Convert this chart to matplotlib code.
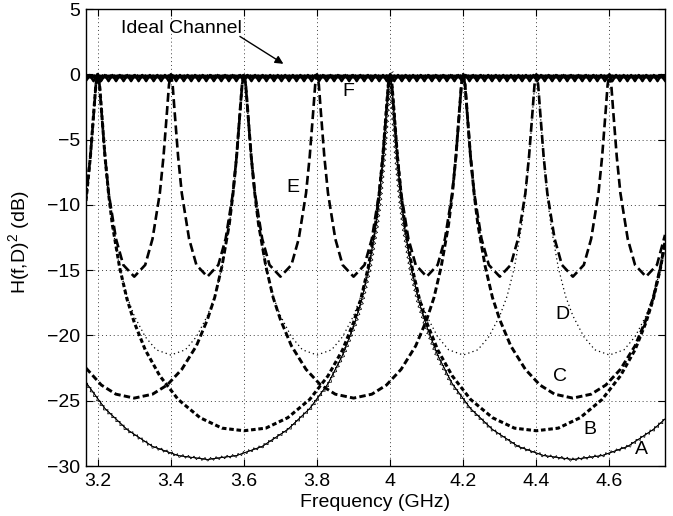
import matplotlib
matplotlib.use("Agg")
import matplotlib.pyplot as plt
from matplotlib import patheffects as pe

plt.rcParams["font.family"] = ["Liberation Sans", "DejaVu Sans"]
plt.rcParams["mathtext.fontset"] = "custom"
plt.rcParams["mathtext.rm"] = "Liberation Sans"
plt.rcParams["font.size"] = 14

# ---------------------------------------------------------------------------
# values (frequency in GHz, |H|^2 in dB)
# ---------------------------------------------------------------------------

# A: thin solid, one resonance at 4.0
a_freq = [3.168, 3.22, 3.28, 3.35, 3.42, 3.5, 3.58, 3.65, 3.72, 3.78, 3.83, 3.87,
          3.9, 3.92, 3.94, 3.96, 3.97, 3.98, 3.99, 3.995, 4.0, 4.005, 4.01, 4.02,
          4.03, 4.04, 4.06, 4.08, 4.1, 4.13, 4.17, 4.22, 4.28, 4.35, 4.42, 4.5,
          4.58, 4.65, 4.72, 4.752]
a_db = [-23.6, -25.6, -27.2, -28.5, -29.2, -29.5, -29.2, -28.5, -27.2, -25.6, -23.7, -21.5,
        -19.3, -17.5, -15.1, -11.8, -9.5, -6.5, -2.7, -0.9, 0.0, -0.9, -2.7, -6.5,
        -9.5, -11.8, -15.1, -17.5, -19.3, -21.5, -23.7, -25.6, -27.2, -28.5, -29.2, -29.5,
        -29.2, -28.5, -27.2, -26.4]

# B: thick dashed, resonances at 3.2 and 4.0
b_freq = [3.168, 3.18, 3.19, 3.195, 3.2, 3.205, 3.21, 3.22, 3.23, 3.24, 3.26, 3.28,
          3.3, 3.33, 3.37, 3.42, 3.48, 3.54, 3.6, 3.66, 3.72, 3.78, 3.83, 3.87,
          3.9, 3.92, 3.94, 3.96, 3.97, 3.98, 3.99, 3.995, 4.0, 4.005, 4.01, 4.02,
          4.03, 4.04, 4.06, 4.08, 4.1, 4.13, 4.17, 4.22, 4.28, 4.34, 4.4, 4.46,
          4.52, 4.58, 4.63, 4.67, 4.7, 4.72, 4.74, 4.752]
b_db = [-9.7, -6.3, -2.6, -0.8, 0.0, -0.8, -2.6, -6.3, -9.2, -11.5, -14.8, -17.2,
        -19.0, -21.1, -23.1, -24.9, -26.3, -27.1, -27.3, -27.1, -26.3, -24.9, -23.1, -21.1,
        -19.0, -17.2, -14.8, -11.5, -9.2, -6.3, -2.6, -0.8, 0.0, -0.8, -2.6, -6.3,
        -9.2, -11.5, -14.8, -17.2, -19.0, -21.1, -23.1, -24.9, -26.3, -27.1, -27.3, -27.1,
        -26.3, -24.9, -23.1, -21.1, -19.0, -17.2, -14.8, -12.9]

# C: thick dashed, resonances at 3.6 and 4.2
c_freq = [3.168, 3.21, 3.25, 3.3, 3.35, 3.39, 3.43, 3.47, 3.5, 3.52, 3.54, 3.56,
          3.57, 3.58, 3.59, 3.595, 3.6, 3.605, 3.61, 3.62, 3.63, 3.64, 3.66, 3.68,
          3.7, 3.73, 3.77, 3.81, 3.85, 3.9, 3.95, 3.99, 4.03, 4.07, 4.1, 4.12,
          4.14, 4.16, 4.17, 4.18, 4.19, 4.195, 4.2, 4.205, 4.21, 4.22, 4.23, 4.24,
          4.26, 4.28, 4.3, 4.33, 4.37, 4.41, 4.45, 4.5, 4.55, 4.59, 4.63, 4.67,
          4.7, 4.72, 4.74, 4.752]
c_db = [-22.5, -23.8, -24.5, -24.8, -24.5, -23.8, -22.6, -20.8, -18.8, -17.1, -14.7, -11.5,
        -9.2, -6.3, -2.6, -0.8, 0.0, -0.8, -2.6, -6.3, -9.2, -11.5, -14.7, -17.1,
        -18.8, -20.8, -22.6, -23.8, -24.5, -24.8, -24.5, -23.8, -22.6, -20.8, -18.8, -17.1,
        -14.7, -11.5, -9.2, -6.3, -2.6, -0.8, 0.0, -0.8, -2.6, -6.3, -9.2, -11.5,
        -14.7, -17.1, -18.8, -20.8, -22.6, -23.8, -24.5, -24.8, -24.5, -23.8, -22.6, -20.8,
        -18.8, -17.1, -14.7, -12.8]

# D: thin dotted, resonances every 0.4 GHz
d_freq = [3.168, 3.18, 3.19, 3.195, 3.2, 3.205, 3.21, 3.22, 3.23, 3.24, 3.26, 3.28,
          3.3, 3.33, 3.36, 3.4, 3.44, 3.47, 3.5, 3.52, 3.54, 3.56, 3.57, 3.58,
          3.59, 3.595, 3.6, 3.605, 3.61, 3.62, 3.63, 3.64, 3.66, 3.68, 3.7, 3.73,
          3.76, 3.8, 3.84, 3.87, 3.9, 3.92, 3.94, 3.96, 3.97, 3.98, 3.99, 3.995,
          4.0, 4.005, 4.01, 4.02, 4.03, 4.04, 4.06, 4.08, 4.1, 4.13, 4.16, 4.2,
          4.24, 4.27, 4.3, 4.32, 4.34, 4.36, 4.37, 4.38, 4.39, 4.395, 4.4, 4.405,
          4.41, 4.42, 4.43, 4.44, 4.46, 4.48, 4.5, 4.53, 4.56, 4.6, 4.64, 4.67,
          4.7, 4.72, 4.74, 4.752]
d_db = [-9.8, -6.5, -2.7, -0.9, 0.0, -0.9, -2.7, -6.5, -9.4, -11.6, -14.8, -17.0,
        -18.5, -20.1, -21.1, -21.5, -21.1, -20.1, -18.5, -17.0, -14.8, -11.6, -9.4, -6.5,
        -2.7, -0.9, 0.0, -0.9, -2.7, -6.5, -9.4, -11.6, -14.8, -17.0, -18.5, -20.1,
        -21.1, -21.5, -21.1, -20.1, -18.5, -17.0, -14.8, -11.6, -9.4, -6.5, -2.7, -0.9,
        0.0, -0.9, -2.7, -6.5, -9.4, -11.6, -14.8, -17.0, -18.5, -20.1, -21.1, -21.5,
        -21.1, -20.1, -18.5, -17.0, -14.8, -11.6, -9.4, -6.5, -2.7, -0.9, 0.0, -0.9,
        -2.7, -6.5, -9.4, -11.6, -14.8, -17.0, -18.5, -20.1, -21.1, -21.5, -21.1, -20.1,
        -18.5, -17.0, -14.8, -13.0]

# E: thick dashed, resonances every 0.2 GHz
e_freq = [3.168, 3.18, 3.19, 3.195, 3.2, 3.205, 3.21, 3.22, 3.23, 3.25, 3.27, 3.3,
          3.33, 3.35, 3.37, 3.38, 3.39, 3.395, 3.4, 3.405, 3.41, 3.42, 3.43, 3.45, 3.47, 3.5,
          3.53, 3.55, 3.57, 3.58, 3.59, 3.595, 3.6, 3.605, 3.61, 3.62, 3.63, 3.65, 3.67, 3.7,
          3.73, 3.75, 3.77, 3.78, 3.79, 3.795, 3.8, 3.805, 3.81, 3.82, 3.83, 3.85, 3.87, 3.9,
          3.93, 3.95, 3.97, 3.98, 3.99, 3.995, 4.0, 4.005, 4.01, 4.02, 4.03, 4.05, 4.07, 4.1,
          4.13, 4.15, 4.17, 4.18, 4.19, 4.195, 4.2, 4.205, 4.21, 4.22, 4.23, 4.25, 4.27, 4.3,
          4.33, 4.35, 4.37, 4.38, 4.39, 4.395, 4.4, 4.405, 4.41, 4.42, 4.43, 4.45, 4.47, 4.5,
          4.53, 4.55, 4.57, 4.58, 4.59, 4.595, 4.6, 4.605, 4.61, 4.62, 4.63, 4.65, 4.67, 4.7,
          4.73, 4.752]
e_db = [-9.5, -6.3, -2.7, -0.8, 0.0, -0.8, -2.7, -6.3, -9.1, -12.6, -14.6, -15.5,
        -14.6, -12.6, -9.1, -6.3, -2.7, -0.8, 0.0, -0.8, -2.7, -6.3, -9.1, -12.6, -14.6, -15.5,
        -14.6, -12.6, -9.1, -6.3, -2.7, -0.8, 0.0, -0.8, -2.7, -6.3, -9.1, -12.6, -14.6, -15.5,
        -14.6, -12.6, -9.1, -6.3, -2.7, -0.8, 0.0, -0.8, -2.7, -6.3, -9.1, -12.6, -14.6, -15.5,
        -14.6, -12.6, -9.1, -6.3, -2.7, -0.8, 0.0, -0.8, -2.7, -6.3, -9.1, -12.6, -14.6, -15.5,
        -14.6, -12.6, -9.1, -6.3, -2.7, -0.8, 0.0, -0.8, -2.7, -6.3, -9.1, -12.6, -14.6, -15.5,
        -14.6, -12.6, -9.1, -6.3, -2.7, -0.8, 0.0, -0.8, -2.7, -6.3, -9.1, -12.6, -14.6, -15.5,
        -14.6, -12.6, -9.1, -6.3, -2.7, -0.8, 0.0, -0.8, -2.7, -6.3, -9.1, -12.6, -14.6, -15.5,
        -14.6, -12.3]

# F: ideal channel, flat at 0 dB
f_freq = [3.168, 4.752]
f_db = [-0.1, -0.1]

x_ticks = [3.2, 3.4, 3.6, 3.8, 4.0, 4.2, 4.4, 4.6]
x_ticklabels = ["3.2", "3.4", "3.6", "3.8", "4", "4.2", "4.4", "4.6"]
y_ticks = [-30, -25, -20, -15, -10, -5, 0, 5]

# curve labels: (text, freq, dB)
curve_labels = [("F", 3.886, -1.3), ("E", 3.735, -8.7), ("D", 4.471, -18.4),
                ("C", 4.465, -23.15), ("B", 4.547, -27.2), ("A", 4.688, -28.7)]


fig = plt.figure(figsize=(6.73, 5.16), dpi=100)
ax = fig.add_axes([86 / 673, 50 / 516, 579 / 673, 457 / 516])

# ripple texture on the ideal channel and on curve A
ripple_f = [pe.Normal(),
            pe.withTickedStroke(spacing=5.4, angle=-53, length=0.83, linewidth=1.9),
            pe.withTickedStroke(spacing=5.4, angle=-127, length=0.83, linewidth=1.9)]
ripple_a = [pe.withTickedStroke(offset=(0, 1.0), spacing=4.0, angle=-45, length=0.71, linewidth=0.55),
            pe.withTickedStroke(offset=(0, 1.0), spacing=4.0, angle=-135, length=0.71, linewidth=0.55)]

ax.plot(a_freq, a_db, color="k", lw=0.6, path_effects=ripple_a)
ax.plot(b_freq, b_db, color="k", lw=2.2, dashes=(1.5, 0.9))
ax.plot(c_freq, c_db, color="k", lw=2.1, dashes=(2.2, 1.1))
ax.plot(d_freq, d_db, color="k", lw=0.9, dashes=(1.0, 2.5))
ax.plot(e_freq, e_db, color="k", lw=1.9, dashes=(3.4, 1.6))
ax.plot(f_freq, f_db, color="k", lw=2.4, path_effects=ripple_f)

for label, fx, fy in curve_labels:
    ax.text(fx, fy, label, ha="center", va="center")

ax.text(3.263, 3.2, "Ideal Channel", ha="left", va="baseline")
ax.annotate("", xy=(3.708, 0.8), xytext=(3.589, 2.9),
            arrowprops=dict(arrowstyle="-|>", color="k", lw=1.0,
                            mutation_scale=12, shrinkA=0, shrinkB=0))

ax.set_xlim(3.168, 4.752)
ax.set_ylim(-30, 5)
ax.set_xticks(x_ticks)
ax.set_xticklabels(x_ticklabels)
ax.set_yticks(y_ticks)
ax.grid(True, color="0.25", lw=0.7, dashes=(1.0, 3.0))
ax.tick_params(direction="in", length=5, width=0.8, top=True, right=True)
ax.tick_params(axis="x", pad=5.0)
ax.tick_params(axis="y", pad=4.0)
for sp in ax.spines.values():
    sp.set_linewidth(1.0)

ax.set_xlabel("Frequency (GHz)")
ax.set_ylabel(r"H(f,D)$^\mathrm{2}$ (dB)")
ax.xaxis.set_label_coords(0.5, -0.062)
ax.yaxis.set_label_coords(-0.092, 0.49)

fig.savefig("out.png", dpi=100)
